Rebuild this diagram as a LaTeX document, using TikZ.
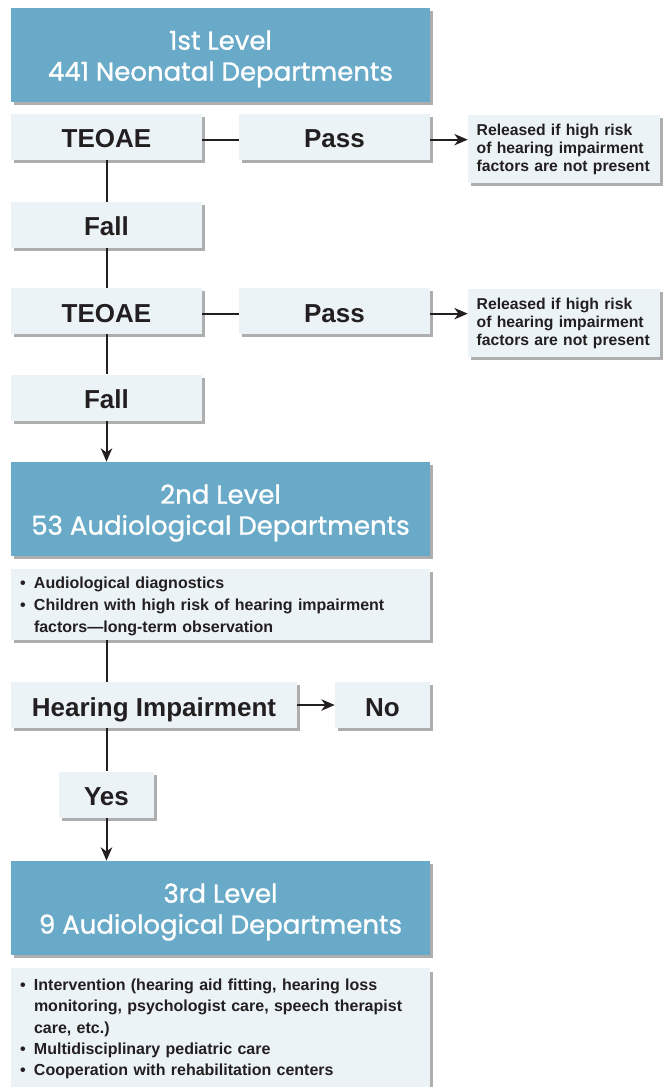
\documentclass[tikz,border=0pt]{standalone}
\usepackage{fontspec}
\setmainfont{Liberation Sans}
\newfontfamily\headfont[FakeBold=1]{Poppins}
\usetikzlibrary{arrows.meta, shadows}
\definecolor{levelblue}{HTML}{68AAC8}
\definecolor{stepfill}{HTML}{EBF3F7}
\definecolor{inkdark}{HTML}{231F20}
\newcommand{\leveltext}[2]{\raisebox{-3pt}[\height][\depth]{\begin{tabular}{@{}c@{}}#1\\#2\end{tabular}}}

\begin{document}
\begin{tikzpicture}[x=0.75pt, y=-0.75pt,
    box/.style={inner sep=0pt, drop shadow={shadow xshift=2.5pt, shadow yshift=-2.5pt, opacity=0.45, fill=black!70}},
    level/.style={box, fill=levelblue, text=white, minimum width=314.25pt, minimum height=70.5pt, font=\headfont\fontsize{19.5}{23.25}\selectfont},
    stepbox/.style={box, fill=stepfill, text=inkdark, minimum width=143.25pt, minimum height=34.5pt, text height=16.5pt, text depth=0pt, font=\bfseries\fontsize{19.5}{22}\selectfont},
    note/.style={box, fill=stepfill, text=inkdark, minimum width=144pt, minimum height=51pt, inner xsep=6.5pt, text width=131pt, align=left, font=\bfseries\fontsize{11.8}{13.5}\selectfont},
    listbox/.style={box, fill=stepfill, text=inkdark, minimum width=314.25pt, inner xsep=6.75pt, text width=300.75pt, align=left, font=\bfseries\fontsize{12}{16.5}\selectfont},
    link/.style={line width=1.5pt, draw=inkdark},
    flow/.style={link, -{Stealth[length=10pt, width=8.5pt, inset=3pt]}}
  ]
  \useasboundingbox (0,0) rectangle (665,1087);

  % First level
  \node[level] (lvl1) at (220.5,55) {\leveltext{1st Level}{441 Neonatal Departments}};
  \node[stepbox] (teoae1) at (106.5,137) {TEOAE};
  \node[stepbox] (pass1) at (334.5,137) {Pass};
  \node[note] (rel1) at (564,149) {Released if high risk\\of hearing impairment\\factors are not present};
  \node[stepbox] (fall1) at (106.5,225) {Fall};
  \node[stepbox] (teoae2) at (106.5,311) {TEOAE};
  \node[stepbox] (pass2) at (334.5,311) {Pass};
  \node[note] (rel2) at (564,323) {Released if high risk\\of hearing impairment\\factors are not present};
  \node[stepbox] (fall2) at (106.5,397.5) {Fall};

  % Second level
  \node[level] (lvl2) at (220.5,509) {\leveltext{2nd Level}{53 Audiological Departments}};
  \node[listbox, minimum height=53.25pt] (tasks2) at (220.5,604.5)
    {\noindent\raisebox{-1.5pt}[\height][\depth]{\begin{tabular}{@{}p{10.5pt}@{}l@{}}
       \textbullet & Audiological diagnostics\\
       \textbullet & Children with high risk of hearing impairment\\
                   & factors---long-term observation
     \end{tabular}}};
  \node[stepbox, minimum width=214.5pt] (hear) at (154,705) {Hearing Impairment};
  \node[stepbox, minimum width=71.25pt] (no) at (382.5,705) {No};
  \node[stepbox, minimum width=71.25pt] (yes) at (106.5,794.5) {Yes};

  % Third level
  \node[level] (lvl3) at (220.5,908) {\leveltext{3rd Level}{9 Audiological Departments}};
  \node[listbox, anchor=north, inner ysep=5.5pt, font=\bfseries\fontsize{12}{16}\selectfont] (tasks3) at (220.5,968)
    {\noindent\begin{tabular}{@{}p{10.5pt}@{}l@{}}
       \textbullet & Intervention (hearing aid fitting, hearing loss\\
                   & monitoring, psychologist care, speech therapist\\
                   & care, etc.)\\
       \textbullet & Multidisciplinary pediatric care\\
       \textbullet & Cooperation with rehabilitation centers\rule[-14pt]{0pt}{14pt}
     \end{tabular}};

  % Screening flow
  \draw[link] ([yshift=-2pt]teoae1.east) -- ([yshift=-2pt]pass1.west);
  \draw[flow] ([yshift=-2pt]pass1.east) -- ([yshift=-2pt]pass1.east -| rel1.west);
  \draw[link] (teoae1) -- (fall1);
  \draw[link] (fall1) -- (teoae2);
  \draw[link] ([yshift=-2pt]teoae2.east) -- ([yshift=-2pt]pass2.west);
  \draw[flow] ([yshift=-2pt]pass2.east) -- ([yshift=-2pt]pass2.east -| rel2.west);
  \draw[link] (teoae2) -- (fall2);
  \draw[flow] (fall2) -- (fall2 |- lvl2.north);

  % Diagnosis
  \draw[link] (tasks2.south -| yes) -- (hear.north -| yes);
  \draw[flow] (hear) -- (no);
  \draw[link] (hear.south -| yes) -- (yes);
  \draw[flow] (yes) -- (yes |- lvl3.north);
\end{tikzpicture}
\end{document}
